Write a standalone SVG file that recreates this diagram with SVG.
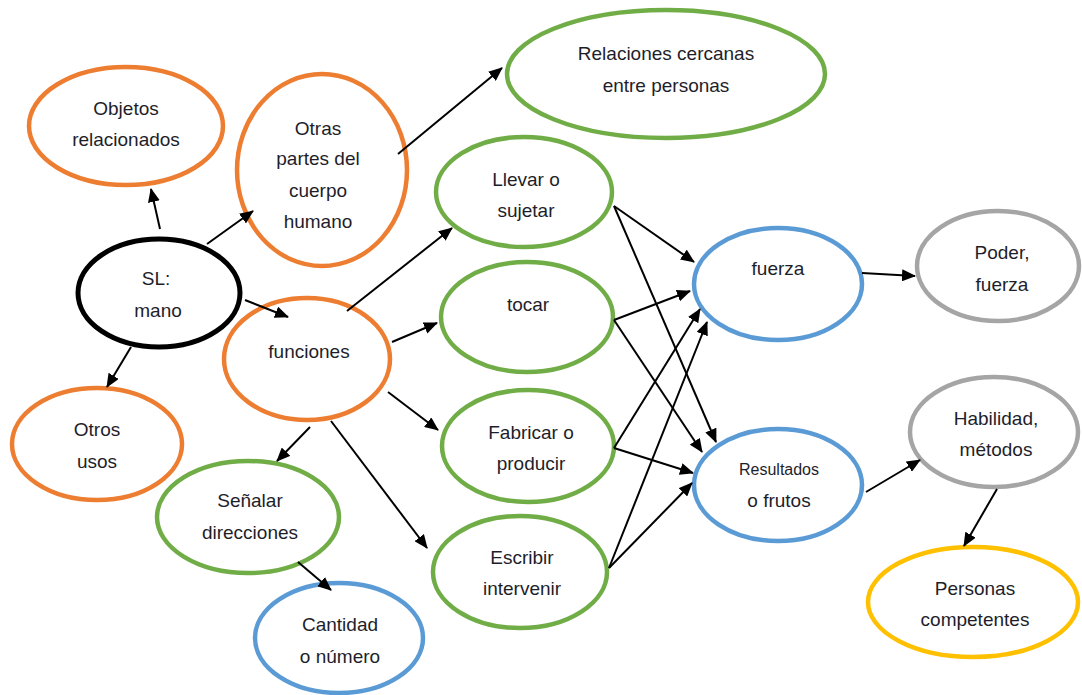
<svg xmlns="http://www.w3.org/2000/svg" width="1082" height="695" viewBox="0 0 1082 695">
<defs>
<marker id="ah" markerUnits="userSpaceOnUse" markerWidth="14" markerHeight="12" refX="13" refY="6" orient="auto">
<path d="M0,0 L14,6 L0,12 Z" fill="#000"/>
</marker>
<style>
.n{fill:#fff;stroke-width:4.5}
.o{stroke:#ED7D31}.g{stroke:#70AD47}.b{stroke:#5B9BD5}.k{stroke:#000;stroke-width:5}.y{stroke:#FFC000}.gr{stroke:#A5A5A5}
text{font-family:"Liberation Sans",Arial,sans-serif;font-size:19px;fill:#1e1e2a;text-anchor:middle}
.sm{font-size:16px}
#edges line{stroke:#000;stroke-width:2;marker-end:url(#ah)}
</style>
</defs>
<rect width="1082" height="695" fill="#fff"/>
<g id="objetos"><ellipse class="n o" cx="126" cy="126" rx="97" ry="59"/><text x="126" y="115">Objetos</text><text x="126" y="146">relacionados</text></g>
<g id="otras"><ellipse class="n o" cx="322" cy="170" rx="85" ry="96"/><text x="318" y="135">Otras</text><text x="318" y="165">partes del</text><text x="318" y="197">cuerpo</text><text x="318" y="228">humano</text></g>
<g id="relaciones"><ellipse class="n g" cx="666" cy="74" rx="159" ry="64"/><text x="666" y="60">Relaciones cercanas</text><text x="666" y="92">entre personas</text></g>
<g id="sl"><ellipse class="n k" cx="159" cy="293" rx="81" ry="54"/><text x="156" y="285">SL:</text><text x="158" y="317">mano</text></g>
<g id="llevar"><ellipse class="n g" cx="524" cy="192" rx="88" ry="55"/><text x="526" y="186">Llevar o</text><text x="526" y="217">sujetar</text></g>
<g id="tocar"><ellipse class="n g" cx="527" cy="317" rx="86" ry="55"/><text x="528" y="311">tocar</text></g>
<g id="funciones"><ellipse class="n o" cx="307" cy="359" rx="83" ry="61"/><text x="309" y="358">funciones</text></g>
<g id="fabricar"><ellipse class="n g" cx="528" cy="446" rx="86" ry="56"/><text x="531" y="439">Fabricar o</text><text x="531" y="470">producir</text></g>
<g id="escribir"><ellipse class="n g" cx="520" cy="572" rx="87" ry="56"/><text x="522" y="564">Escribir</text><text x="522" y="595">intervenir</text></g>
<g id="otros"><ellipse class="n o" cx="97" cy="444" rx="85" ry="56"/><text x="97" y="436">Otros</text><text x="97" y="468">usos</text></g>
<g id="senalar"><ellipse class="n g" cx="248" cy="517" rx="91" ry="56"/><text x="250" y="507">Señalar</text><text x="250" y="539">direcciones</text></g>
<g id="cantidad"><ellipse class="n b" cx="339" cy="638" rx="84" ry="55"/><text x="340" y="631">Cantidad</text><text x="340" y="663">o número</text></g>
<g id="fuerza"><ellipse class="n b" cx="778" cy="284" rx="84" ry="56"/><text x="778" y="275">fuerza</text></g>
<g id="poder"><ellipse class="n gr" cx="998" cy="266" rx="81" ry="55"/><text x="1002" y="259">Poder,</text><text x="1002" y="291">fuerza</text></g>
<g id="resultados"><ellipse class="n b" cx="778" cy="485" rx="84" ry="56"/><text class="sm" x="779" y="475">Resultados</text><text x="779" y="507">o frutos</text></g>
<g id="habilidad"><ellipse class="n gr" cx="994" cy="432" rx="84" ry="55"/><text x="996" y="425">Habilidad,</text><text x="996" y="456">métodos</text></g>
<g id="personas"><ellipse class="n y" cx="973" cy="602" rx="105" ry="55"/><text x="975" y="595">Personas</text><text x="975" y="626">competentes</text></g>
<g id="edges">
<line x1="160" y1="229" x2="151" y2="189"/>
<line x1="207" y1="244" x2="253" y2="211"/>
<line x1="245" y1="300" x2="288" y2="317"/>
<line x1="131" y1="347" x2="107" y2="387"/>
<line x1="398" y1="154" x2="502" y2="68"/>
<line x1="347" y1="311" x2="452" y2="228"/>
<line x1="392" y1="342" x2="437" y2="323"/>
<line x1="388" y1="392" x2="438" y2="430"/>
<line x1="310" y1="427" x2="277" y2="461"/>
<line x1="331" y1="421" x2="427" y2="548"/>
<line x1="298" y1="562" x2="331" y2="590"/>
<line x1="614" y1="206" x2="694" y2="262"/>
<line x1="614" y1="206" x2="716" y2="442"/>
<line x1="614" y1="320" x2="690" y2="291"/>
<line x1="614" y1="320" x2="702" y2="452"/>
<line x1="614" y1="448" x2="700" y2="309"/>
<line x1="614" y1="448" x2="693" y2="473"/>
<line x1="609" y1="568" x2="707" y2="322"/>
<line x1="609" y1="568" x2="692" y2="483"/>
<line x1="862" y1="273" x2="915" y2="276"/>
<line x1="866" y1="492" x2="920" y2="460"/>
<line x1="997" y1="489" x2="964" y2="546"/>
</g>
</svg>
